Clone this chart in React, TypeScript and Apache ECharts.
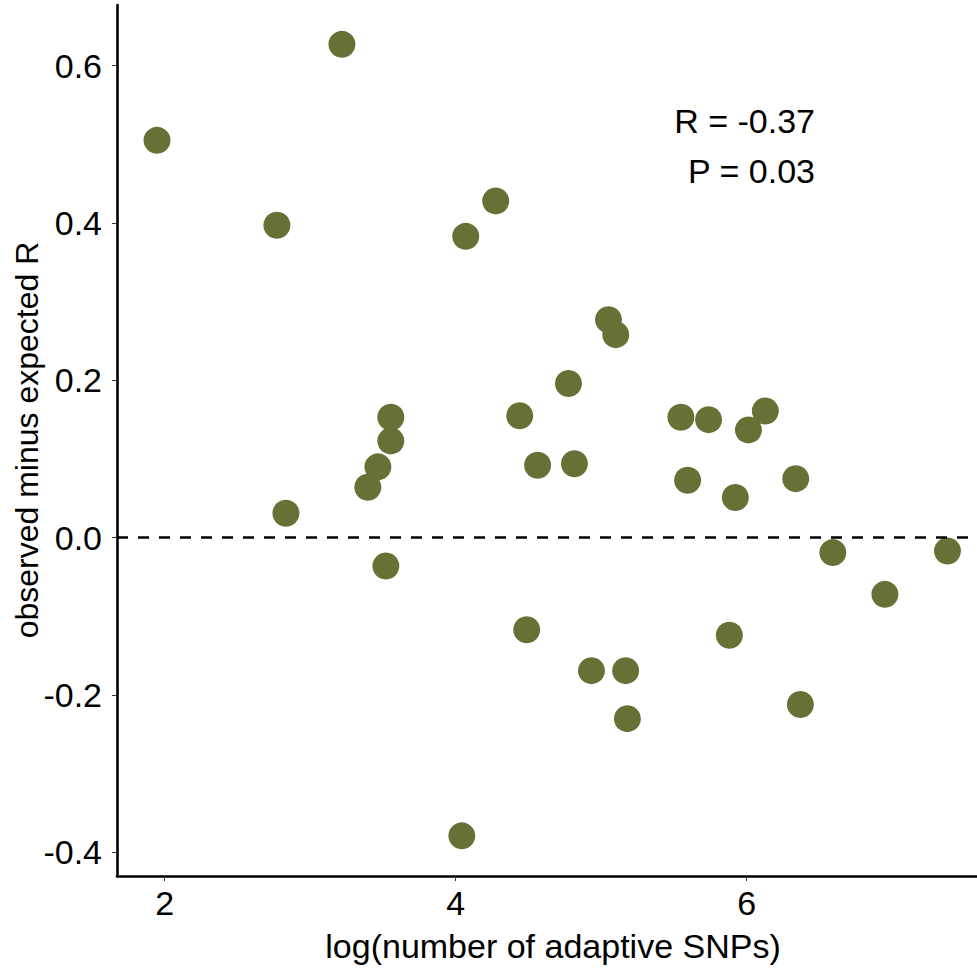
import React, { useEffect, useRef } from "react";
import * as echarts from "echarts";

const xValues = [
  1.947, 3.218, 2.771, 2.833, 3.396, 3.465, 3.554, 3.554, 3.52, 4.069, 4.275, 4.44,
  4.488, 4.563, 4.042, 4.775, 4.816, 4.933, 5.05, 5.1, 5.168, 5.18, 5.548, 5.594,
  5.738, 5.881, 5.922, 6.012, 6.128, 6.337, 6.369, 6.592, 6.95, 7.38,
];
const yValues = [
  0.505, 0.627, 0.397, 0.031, 0.064, 0.09, 0.153, 0.123, -0.036, 0.383, 0.428, 0.155,
  -0.117, 0.092, -0.379, 0.196, 0.094, -0.169, 0.277, 0.258, -0.169, -0.23, 0.153, 0.073,
  0.15, -0.124, 0.051, 0.137, 0.161, 0.075, -0.212, -0.019, -0.072, -0.017,
];
const xTicks = [2, 4, 6];
const yTicks = [-0.4, -0.2, 0.0, 0.2, 0.4, 0.6];
const annotationLines = ["R = -0.37", "P = 0.03"];
const xTitle = "log(number of adaptive SNPs)";
const yTitle = "observed minus expected R";

const FONT = "'Liberation Sans', Arial, sans-serif";

export default function App() {
  const ref = useRef<HTMLDivElement>(null);
  useEffect(() => {
    if (!ref.current) return;
    const chart = echarts.init(ref.current, null, { renderer: "svg" });
    const points = xValues.map((x, i) => [x, yValues[i]]);
    chart.setOption({
      animation: false,
      backgroundColor: "#ffffff",
      grid: { left: 117, right: 0, top: 5, bottom: 94 },
      xAxis: {
        type: "value",
        min: 1.672,
        max: 7.583,
        name: xTitle,
        nameLocation: "middle",
        nameGap: 53,
        nameTextStyle: { fontSize: 34, color: "#000", fontFamily: FONT, padding: [0, 0, 0, 12] },
        axisLine: { show: true, onZero: false, lineStyle: { color: "#000", width: 2.6 } },
        axisTick: { show: true, length: 5, customValues: xTicks, lineStyle: { color: "#333", width: 1 } },
        axisLabel: {
          customValues: xTicks,
          fontSize: 34,
          color: "#000",
          fontFamily: FONT,
          margin: 10,
          formatter: (v: number) => String(v),
        },
        splitLine: { show: false },
      },
      yAxis: {
        type: "value",
        min: -0.43,
        max: 0.677,
        axisLine: { show: true, onZero: false, lineStyle: { color: "#000", width: 2.6 } },
        axisTick: { show: true, length: 5, customValues: yTicks, lineStyle: { color: "#333", width: 1 } },
        axisLabel: {
          customValues: yTicks,
          fontSize: 34,
          color: "#000",
          fontFamily: FONT,
          margin: 15,
          formatter: (v: number) => v.toFixed(1),
        },
        splitLine: { show: false },
      },
      graphic: [
        {
          type: "text",
          x: 27,
          y: 440,
          rotation: Math.PI / 2,
          style: {
            text: yTitle,
            fontSize: 32,
            fill: "#000",
            fontFamily: FONT,
            align: "center",
            verticalAlign: "middle",
          },
        },
        {
          type: "text",
          x: 815,
          y: 121,
          style: {
            text: annotationLines[0],
            fontSize: 34,
            fill: "#000",
            fontFamily: FONT,
            align: "right",
            verticalAlign: "middle",
          },
        },
        {
          type: "text",
          x: 815,
          y: 171,
          style: {
            text: annotationLines[1],
            fontSize: 34,
            fill: "#000",
            fontFamily: FONT,
            align: "right",
            verticalAlign: "middle",
          },
        },
      ],
      series: [
        {
          type: "scatter",
          data: points,
          symbolSize: 27,
          itemStyle: { color: "#687135", opacity: 1 },
          markLine: {
            silent: true,
            symbol: ["none", "none"],
            label: { show: false },
            lineStyle: { color: "#000", width: 2.6, type: [11, 10] },
            data: [{ yAxis: 0 }],
          },
        },
      ],
    });
    return () => chart.dispose();
  }, []);
  return (
    <div
      ref={ref}
      style={{ position: "absolute", left: 0, top: 0, width: 977, height: 970 }}
    />
  );
}
